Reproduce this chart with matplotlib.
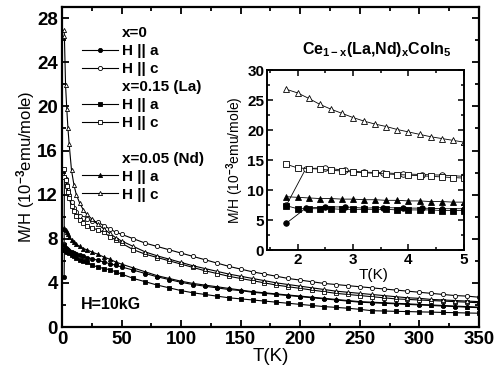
import matplotlib
matplotlib.use("Agg")
import matplotlib.pyplot as plt
from matplotlib.lines import Line2D
from matplotlib.ticker import MultipleLocator

plt.rcParams['font.family'] = 'Liberation Sans'
plt.rcParams['font.weight'] = 'bold'
plt.rcParams['mathtext.fontset'] = 'custom'
plt.rcParams['mathtext.rm'] = 'Liberation Sans:bold'
plt.rcParams['mathtext.it'] = 'Liberation Sans:bold'
plt.rcParams['mathtext.bf'] = 'Liberation Sans:bold'
plt.rcParams['mathtext.default'] = 'rm'

# main panel: M/H (10^-3 emu/mole) vs T (K)
T = [1.8, 2, 3, 4, 5, 6, 8, 10, 12, 15, 18, 21, 25, 30, 35, 40, 45, 50, 60, 70, 80, 90,
     100, 110, 120, 130, 140, 150, 160, 170, 180, 190, 200, 210, 220, 230, 240, 250,
     260, 270, 280, 290, 300, 310, 320, 330, 340, 350]

x0_a = [4.5, 7.0, 7.2, 7.1, 7.0, 6.9, 6.8, 6.7, 6.6, 6.5, 6.4, 6.3, 6.2, 6.05, 5.9, 5.75,
        5.6, 5.45, 5.15, 4.85, 4.55, 4.3, 4.05, 3.85, 3.7, 3.55, 3.4, 3.3, 3.15, 3.05,
        2.95, 2.85, 2.75, 2.65, 2.55, 2.45, 2.35, 2.25, 2.2, 2.15, 2.1, 2.05, 2.0, 1.95,
        1.9, 1.85, 1.8, 1.75]
x0_c = [7.5, 13.6, 13.4, 12.9, 12.4, 12.0, 11.3, 10.8, 10.4, 10.1, 9.9, 9.8, 9.65, 9.5,
        9.2, 8.9, 8.6, 8.4, 8.0, 7.6, 7.3, 7.0, 6.7, 6.4, 6.1, 5.8, 5.5, 5.25, 5.0, 4.8,
        4.6, 4.4, 4.25, 4.1, 3.95, 3.85, 3.75, 3.65, 3.55, 3.45, 3.35, 3.25, 3.15, 3.05,
        2.95, 2.85, 2.8, 2.7]
la_a = [7.4, 7.0, 6.9, 6.8, 6.8, 6.7, 6.5, 6.4, 6.3, 6.1, 6.0, 5.85, 5.6, 5.45, 5.3,
        5.2, 5.0, 4.8, 4.4, 4.1, 3.8, 3.55, 3.3, 3.1, 2.95, 2.8, 2.65, 2.55, 2.45, 2.35,
        2.25, 2.15, 2.05, 1.95, 1.85, 1.78, 1.7, 1.6, 1.48, 1.45, 1.42, 1.4, 1.37, 1.35,
        1.32, 1.3, 1.27, 1.25]
la_c = [14.3, 13.6, 13.3, 12.8, 12.2, 11.7, 11.0, 10.5, 10.1, 9.7, 9.4, 9.2, 9.0, 8.8,
        8.6, 8.2, 7.9, 7.6, 7.0, 6.6, 6.3, 6.0, 5.7, 5.4, 5.1, 4.85, 4.6, 4.4, 4.2, 4.0,
        3.8, 3.65, 3.5, 3.35, 3.2, 3.05, 2.95, 2.85, 2.75, 2.65, 2.55, 2.5, 2.45, 2.4,
        2.35, 2.3, 2.25, 2.2]
nd_a = [9.0, 8.9, 8.8, 8.6, 8.4, 8.2, 7.9, 7.7, 7.5, 7.3, 7.1, 7.0, 6.8, 6.6, 6.35,
        6.15, 5.9, 5.7, 5.35, 5.0, 4.65, 4.4, 4.15, 3.95, 3.8, 3.65, 3.5, 3.35, 3.2, 3.1,
        3.0, 2.9, 2.8, 2.7, 2.6, 2.5, 2.4, 2.3, 2.25, 2.2, 2.15, 2.1, 2.05, 2.0, 1.95,
        1.9, 1.85, 1.8]
nd_c = [26.9, 26.4, 21.9, 19.8, 18.0, 16.6, 14.2, 12.9, 12.0, 11.2, 10.6, 10.2, 9.8,
        9.3, 8.9, 8.5, 8.1, 7.8, 7.3, 6.8, 6.45, 6.15, 5.85, 5.55, 5.3, 5.05, 4.8, 4.6,
        4.4, 4.2, 4.0, 3.85, 3.7, 3.55, 3.4, 3.25, 3.15, 3.05, 2.95, 2.85, 2.75, 2.65,
        2.6, 2.5, 2.45, 2.4, 2.35, 2.3]

# inset: low temperature detail
Ti_x0 = [1.8, 2.15, 2.5, 2.85, 3.2, 3.55, 3.9, 4.25, 4.6, 5.0]
in_x0_a = [4.5, 7.0, 7.2, 7.2, 7.0, 7.1, 7.0, 7.0, 6.9, 6.9]
in_x0_c = [7.5, 13.6, 13.7, 13.3, 13.0, 12.9, 12.7, 12.6, 12.5, 12.3]
Ti = [1.8, 2.0, 2.2, 2.4, 2.6, 2.8, 3.0, 3.2, 3.4, 3.6, 3.8, 4.0, 4.2, 4.4, 4.6, 4.8, 5.0]
in_la_a = [7.4, 6.9, 6.9, 6.9, 6.9, 6.8, 6.8, 6.8, 6.8, 6.8, 6.7, 6.7, 6.7, 6.7, 6.6,
           6.6, 6.6]
in_la_c = [14.3, 13.7, 13.6, 13.5, 13.3, 13.2, 13.0, 12.9, 12.8, 12.7, 12.6, 12.5, 12.4,
           12.3, 12.2, 12.1, 12.0]
in_nd_a = [8.9, 8.8, 8.7, 8.6, 8.6, 8.5, 8.5, 8.4, 8.4, 8.3, 8.3, 8.2, 8.2, 8.1, 8.1,
           8.0, 8.0]
in_nd_c = [26.8, 26.2, 25.3, 24.3, 23.5, 22.8, 22.1, 21.5, 21.0, 20.6, 20.1, 19.7, 19.3,
           18.9, 18.6, 18.3, 18.0]

styles = {
    'x0_a': dict(marker='o', mfc='k'),
    'x0_c': dict(marker='o', mfc='w'),
    'la_a': dict(marker='s', mfc='k'),
    'la_c': dict(marker='s', mfc='w'),
    'nd_a': dict(marker='^', mfc='k'),
    'nd_c': dict(marker='^', mfc='w'),
}

fig = plt.figure(figsize=(5.02, 3.75), dpi=100)
ax = fig.add_axes([0.1235, 0.128, 0.8305, 0.853])

main = [('x0_a', x0_a), ('x0_c', x0_c), ('la_a', la_a), ('la_c', la_c),
        ('nd_a', nd_a), ('nd_c', nd_c)]
for key, vals in main:
    ax.plot(T, vals, color='k', lw=0.8, mec='k', mew=0.6, ms=3, **styles[key])

ax.set_xlim(0, 350)
ax.set_ylim(0, 29)
ax.xaxis.set_major_locator(MultipleLocator(50))
ax.xaxis.set_minor_locator(MultipleLocator(25))
ax.yaxis.set_major_locator(MultipleLocator(4))
ax.yaxis.set_minor_locator(MultipleLocator(2))
ax.tick_params(which='both', direction='in', top=True, right=True, width=1.3)
ax.tick_params(which='major', length=5, labelsize=13.5, pad=3)
ax.tick_params(which='minor', length=3)
for s in ax.spines.values():
    s.set_linewidth(1.6)
ax.set_xlabel('T(K)', fontsize=13.5, labelpad=0)
ax.set_ylabel('M/H (10$^{-3}$emu/mole)', fontsize=12, labelpad=0)
ax.text(16, 2.0, 'H=10kG', fontsize=11.5, va='center')

blank = Line2D([], [], linestyle='none')
def h(key):
    return Line2D([], [], color='k', lw=0.8, mec='k', mew=0.6, ms=3, **styles[key])
handles = [blank, h('x0_a'), h('x0_c'), blank, h('la_a'), h('la_c'), blank, blank,
           h('nd_a'), h('nd_c')]
labels = ['x=0', 'H || a', 'H || c', 'x=0.15 (La)', 'H || a', 'H || c', ' ',
          'x=0.05 (Nd)', 'H || a', 'H || c']
ax.legend(handles, labels, loc='upper left', bbox_to_anchor=(0.048, 0.941),
          frameon=False, fontsize=11, handlelength=2.35, handletextpad=0.26,
          labelspacing=0.26, borderpad=0, borderaxespad=0)

fig.text(0.75, 0.867, 'Ce$_{1-x}$(La,Nd)$_x$CoIn$_5$', fontsize=11.5,
         ha='center', va='center')

# inset
ins = fig.add_axes([0.532, 0.333, 0.392, 0.48])
ins.plot(Ti_x0, in_x0_a, color='k', lw=0.6, mec='k', mew=0.6, ms=4, **styles['x0_a'])
ins.plot(Ti_x0, in_x0_c, color='k', lw=0.6, mec='k', mew=0.6, ms=4, **styles['x0_c'])
for key, vals in [('la_a', in_la_a), ('la_c', in_la_c), ('nd_a', in_nd_a),
                  ('nd_c', in_nd_c)]:
    ins.plot(Ti, vals, color='k', lw=0.6, mec='k', mew=0.6, ms=4, **styles[key])
ins.set_xlim(1.45, 5)
ins.set_ylim(0, 30)
ins.xaxis.set_major_locator(MultipleLocator(1))
ins.xaxis.set_minor_locator(MultipleLocator(0.5))
ins.yaxis.set_major_locator(MultipleLocator(5))
ins.yaxis.set_minor_locator(MultipleLocator(2.5))
ins.tick_params(which='both', direction='in', top=True, right=True, width=1.1)
ins.tick_params(which='major', length=4, labelsize=11, pad=2)
ins.tick_params(which='minor', length=2.5)
for s in ins.spines.values():
    s.set_linewidth(1.4)
ins.set_xlabel('T(K)', fontsize=11)
ins.xaxis.set_label_coords(0.54, -0.1)
ins.set_ylabel('M/H (10$^{-3}$emu/mole)', fontsize=10, labelpad=1)

fig.savefig('out.png', dpi=100)
